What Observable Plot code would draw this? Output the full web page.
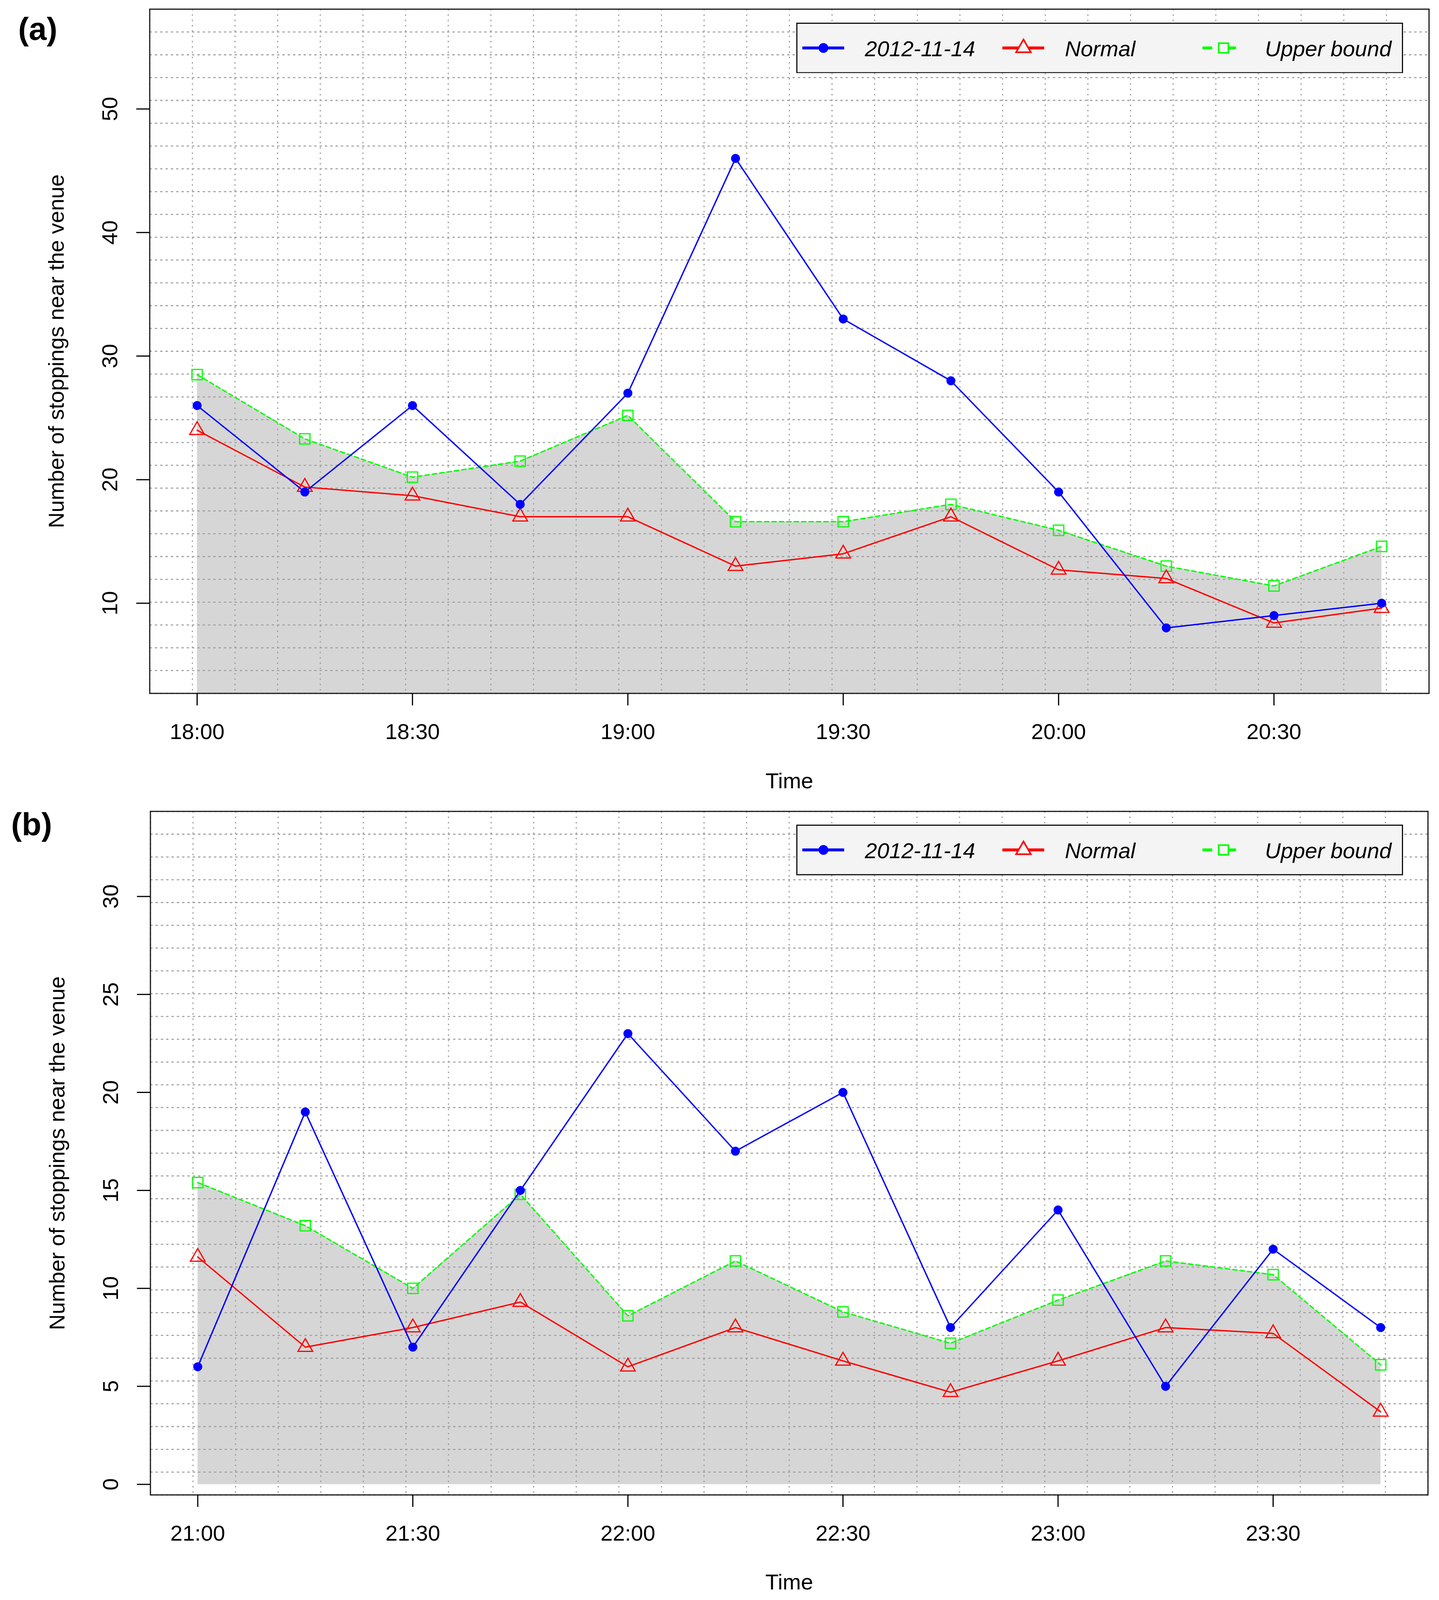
<!DOCTYPE html>
<html>
<head>
<meta charset="utf-8">
<script src="https://cdn.jsdelivr.net/npm/d3@7"></script>
<script src="https://cdn.jsdelivr.net/npm/@observablehq/plot@0.6"></script>
<style>
  html, body { margin: 0; padding: 0; background: #fff; overflow: hidden; }
  #fig { position: relative; width: 3683px; font-family: "Liberation Sans", Arial, sans-serif; }
  #fig svg { display: block; }
  .panel, .legend { position: absolute; left: 0; }
</style>
</head>
<body>
<div id="fig"></div>
<script>
// ---- data ----
const timesA = ["18:00", "18:15", "18:30", "18:45", "19:00", "19:15", "19:30", "19:45", "20:00", "20:15", "20:30", "20:45"];
const observedA = [26, 19, 26, 18, 27, 46, 33, 28, 19, 8, 9, 10];
const normalA = [24.0, 19.4, 18.7, 17.0, 17.0, 13.0, 14.0, 17.0, 12.7, 12.0, 8.4, 9.6];
const upperA = [28.5, 23.3, 20.2, 21.5, 25.2, 16.6, 16.6, 18.0, 15.9, 13.0, 11.4, 14.6];
const xTicksA = ["18:00", "18:30", "19:00", "19:30", "20:00", "20:30"];
const yTicksA = [10, 20, 30, 40, 50];
const yLimA = [2.70, 58.08];

const timesB = ["21:00", "21:15", "21:30", "21:45", "22:00", "22:15", "22:30", "22:45", "23:00", "23:15", "23:30", "23:45"];
const observedB = [6, 19, 7, 15, 23, 17, 20, 8, 14, 5, 12, 8];
const normalB = [11.6, 7.0, 8.0, 9.3, 6.0, 8.0, 6.3, 4.7, 6.3, 8.0, 7.7, 3.7];
const upperB = [15.4, 13.2, 10.0, 14.8, 8.6, 11.4, 8.8, 7.2, 9.4, 11.4, 10.7, 6.1];
const xTicksB = ["21:00", "21:30", "22:00", "22:30", "23:00", "23:30"];
const yTicksB = [0, 5, 10, 15, 20, 25, 30];
const yLimB = [-0.54, 34.34];

const seriesNames = ["2012-11-14", "Normal", "Upper bound"];
const yTitle = "Number of stoppings near the venue";

// ---- helpers ----
const W = 3683, H = 4460;
// the window may be shorter than the figure: squeeze vertical layout to fit
const k = Math.min(1, (window.innerHeight || H) / H);
const parseTime = d3.utcParse("%H:%M");
const fmtTime = d3.utcFormat("%H:%M");
const blue = "#0000ff", red = "#ff0000", green = "#00ff00";
const gridStroke = "#a0a0a0";

// R pads the x range by 4% on each side
const padRange = (a, b, f = 0.04) => [a - f * (b - a), b + f * (b - a)];
// grid(30, 30): equal divisions of the plot region
const divide = ([a, b], n) => d3.range(n + 1).map(k => a + k * (b - a) / n);

const fig = document.getElementById("fig");
fig.style.height = (H * k) + "px";

const makePanel = (cfg) => {
  const rows = cfg.times.map((t, i) => ({
    t: parseTime(t), observed: cfg.observed[i], normal: cfg.normal[i], upper: cfg.upper[i]
  }));
  const xLim = padRange(+rows[0].t, +rows[rows.length - 1].t);
  const gridX = divide(xLim, 30).map(v => new Date(v));
  const gridY = divide(cfg.yLim, 30);
  const ticksX = cfg.xTicks.map(parseTime);

  const svg = Plot.plot({
    width: W,
    height: cfg.height * k,
    marginLeft: cfg.ml, marginRight: cfg.mr, marginTop: cfg.mt * k, marginBottom: cfg.mb * k,
    style: {fontFamily: "Liberation Sans, Arial, sans-serif", fontSize: "56px", background: "white", overflow: "visible", color: "black"},
    x: {type: "utc", domain: xLim.map(v => new Date(v))},
    y: {domain: cfg.yLim},
    marks: [
      Plot.areaY(rows, {x: "t", y1: 0, y2: "upper", fill: "#d6d6d6", clip: true}),
      Plot.ruleX(gridX, {stroke: gridStroke, strokeWidth: 2.8, strokeDasharray: "4,9.6"}),
      Plot.ruleY(gridY, {stroke: gridStroke, strokeWidth: 2.8, strokeDasharray: "6,7.6"}),

      Plot.line(rows, {x: "t", y: "upper", stroke: green, strokeWidth: 3.5, strokeDasharray: "11,8"}),
      Plot.dot(rows, {x: "t", y: "upper", symbol: "square", r: 15, stroke: green, strokeWidth: 3, fill: "none"}),
      Plot.line(rows, {x: "t", y: "normal", stroke: red, strokeWidth: 3.5}),
      Plot.dot(rows, {x: "t", y: "normal", symbol: "triangle", r: 14, stroke: red, strokeWidth: 3, fill: "none"}),
      Plot.line(rows, {x: "t", y: "observed", stroke: blue, strokeWidth: 3.5}),
      Plot.dot(rows, {x: "t", y: "observed", r: 11.5, fill: blue, stroke: "none"}),

      Plot.frame({stroke: "#1a1a1a", strokeWidth: 3}),
      Plot.axisX(ticksX, {tickSize: 34 * k, tickPadding: 50 * k, tickFormat: fmtTime, fontSize: 56, strokeWidth: 3, label: null}),
      Plot.axisY(cfg.yTicks, {tickSize: 34, tickFormat: () => "", strokeWidth: 3, label: null}),
      Plot.text(cfg.yTicks, {y: d => d, text: d => String(d), frameAnchor: "left", dx: -83, rotate: -90,
                             textAnchor: "middle", lineAnchor: "bottom", fontSize: 56}),
      Plot.text(["Time"], {text: d => d, frameAnchor: "bottom", dy: 264 * k, lineAnchor: "bottom", fontSize: 56}),
      Plot.text([yTitle], {text: d => d, frameAnchor: "left", dx: -220, rotate: -90,
                           textAnchor: "middle", lineAnchor: "bottom", fontSize: 56}),
      Plot.text([cfg.tag], {text: d => d, frameAnchor: "top-left", dx: cfg.tagDx, dy: cfg.tagDy * k,
                            textAnchor: "start", lineAnchor: "bottom", fontSize: 82, fontWeight: "bold"})
    ]
  });
  svg.classList.add("panel");
  svg.style.top = (cfg.top * k) + "px";
  fig.appendChild(svg);

  drawLegend((cfg.top + cfg.mt + 39.3) * k);
};

// legend box, drawn with d3 over the top-right of the plot area
const drawLegend = (top) => {
  const bw = 1550, bh = 138 * k, col = 512, pad = 1.5;
  const svg = d3.create("svg")
    .attr("class", "legend")
    .attr("width", bw + 2 * pad).attr("height", bh + 2 * pad)
    .style("left", (2039 - pad) + "px").style("top", (top - pad) + "px");
  svg.append("rect")
    .attr("x", pad).attr("y", pad).attr("width", bw).attr("height", bh)
    .attr("fill", "#f4f4f4").attr("stroke", "#111").attr("stroke-width", 3);

  const styles = [
    {color: blue, dash: null, len: 107, sym: "circle"},
    {color: red, dash: null, len: 107, sym: "triangle"},
    {color: green, dash: "25,36,25", len: 86, sym: "square"}
  ];
  const cy = pad + bh / 2;
  seriesNames.forEach((name, i) => {
    const s = styles[i];
    const x0 = pad + 14 + col * i;
    const g = svg.append("g");
    g.append("line")
      .attr("x1", x0).attr("x2", x0 + s.len).attr("y1", cy).attr("y2", cy)
      .attr("stroke", s.color).attr("stroke-width", 7.5)
      .attr("stroke-dasharray", s.dash);
    const sx = x0 + 54;
    if (s.sym === "circle") {
      g.append("circle").attr("cx", sx).attr("cy", cy).attr("r", 12.5).attr("fill", s.color);
    } else {
      const type = s.sym === "triangle" ? d3.symbolTriangle : d3.symbolSquare;
      g.append("path")
        .attr("d", d3.symbol(type, Math.PI * 14 * 14)())
        .attr("transform", `translate(${sx},${cy})`)
        .attr("fill", "#f4f4f4").attr("stroke", s.color).attr("stroke-width", 4);
    }
    g.append("text")
      .attr("x", x0 + 160).attr("y", cy + 21)
      .attr("font-family", "Liberation Sans, Arial, sans-serif")
      .attr("font-style", "italic").attr("font-size", 56)
      .text(name);
  });
  fig.appendChild(svg.node());
};

makePanel({
  tag: "(a)", top: 0, height: 2236,
  ml: 382.7, mr: 26, mt: 25, mb: 303.7,
  tagDx: -336.7, tagDy: 86,
  times: timesA, observed: observedA, normal: normalA, upper: upperA,
  xTicks: xTicksA, yTicks: yTicksA, yLim: yLimA
});

makePanel({
  tag: "(b)", top: 2236, height: 2224,
  ml: 384.5, mr: 28.7, mt: 24.7, mb: 294,
  tagDx: -356.5, tagDy: 66,
  times: timesB, observed: observedB, normal: normalB, upper: upperB,
  xTicks: xTicksB, yTicks: yTicksB, yLim: yLimB
});
</script>
</body>
</html>
